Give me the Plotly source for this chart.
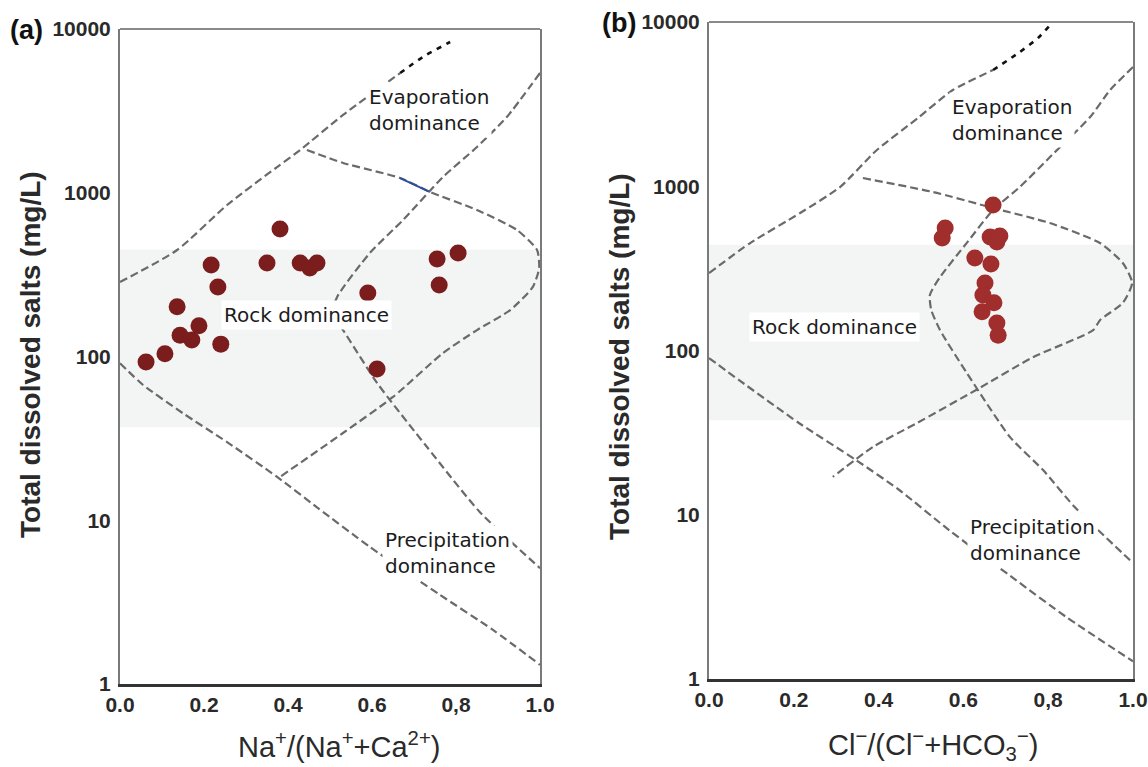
import numpy as np
import plotly.graph_objects as go

# ---------------- data ----------------
# panel (a): Na+/(Na+ + Ca2+) vs TDS
a_ratio = [0.062, 0.107, 0.136, 0.143, 0.171, 0.188, 0.217, 0.233, 0.240, 0.381,
           0.350, 0.429, 0.452, 0.469, 0.590, 0.612, 0.755, 0.805, 0.760]
a_tds = [92.6, 104, 201, 135, 126, 154, 362, 266, 119, 601,
         372, 372, 347, 372, 244, 84, 394, 429, 273]

# panel (b): Cl-/(Cl- + HCO3-) vs TDS
b_ratio = [0.670, 0.557, 0.550, 0.663, 0.679, 0.686, 0.627, 0.665, 0.651, 0.646,
           0.672, 0.644, 0.679, 0.682]
b_tds = [769, 557, 484, 491, 458, 498, 366, 336, 258, 218,
         195, 172, 147, 124]

# Gibbs boundary curves, panel (a)
a_evap_x = [0.0, 0.136, 0.255, 0.374, 0.429, 0.531, 0.667]
a_evap_y = [285, 447, 842, 1436, 1824, 2985, 5385]
a_evap_tip_x = [0.667, 0.721, 0.786]
a_evap_tip_y = [5385, 6745, 8330]
a_right_x = [1.0, 0.921, 0.850, 0.769, 0.674, 0.595, 0.517, 0.505, 0.531, 0.612, 0.731, 0.857, 1.0]
a_right_y = [5385, 2900, 1903, 1248, 682, 429, 231, 179, 145, 69, 28, 11.2, 5.1]
a_lower_x = [0.0, 0.055, 0.150, 0.255, 0.374, 0.469, 0.595, 0.762, 0.888, 1.0]
a_lower_y = [91, 67, 45, 30, 18.4, 12.0, 6.87, 3.5, 2.14, 1.31]
a_inner_x = [0.445, 0.531, 0.667, 0.738, 0.850, 0.945, 0.993, 0.998, 0.983, 0.929,
             0.850, 0.769, 0.650, 0.531, 0.381]
a_inner_y = [1824, 1521, 1230, 1011, 785, 593, 447, 347, 266, 192,
             145, 105, 56.6, 34.1, 18.4]
a_blue_x = [0.667, 0.736]
a_blue_y = [1230, 1015]

# Gibbs boundary curves, panel (b)
b_evap_x = [0.0, 0.097, 0.215, 0.309, 0.396, 0.493, 0.575, 0.670]
b_evap_y = [296, 451, 687, 989, 1663, 2606, 3855, 5100]
b_evap_tip_x = [0.670, 0.733, 0.776, 0.809]
b_evap_tip_y = [5100, 6561, 7990, 9860]
b_right_x = [1.0, 0.946, 0.899, 0.809, 0.733, 0.670, 0.608, 0.545, 0.521, 0.524,
             0.545, 0.608, 0.710, 0.788, 0.863, 1.0]
b_right_y = [5320, 3855, 2640, 1550, 989, 717, 452, 280, 218, 177,
             133, 73, 29.7, 18.7, 11.1, 5.08]
b_lower_x = [0.0, 0.071, 0.212, 0.347, 0.448, 0.566, 0.724, 0.842, 1.0]
b_lower_y = [90, 66, 36.2, 21.5, 14.2, 8.07, 4.0, 2.39, 1.28]
b_inner_x = [0.363, 0.528, 0.670, 0.804, 0.922, 0.976, 0.998, 0.976, 0.922, 0.906,
             0.764, 0.630, 0.491, 0.387, 0.292]
b_inner_y = [1122, 923, 737, 597, 451, 341, 258, 195, 153, 133,
             91, 57.5, 36.2, 25.9, 17.0]

x_ticks = [0.0, 0.2, 0.4, 0.6, 0.8, 1.0]
x_ticktext = ["0.0", "0.2", "0.4", "0.6", "0,8", "1.0"]
y_ticks = [1, 10, 100, 1000, 10000]
y_ticktext = ["1", "10", "100", "1000", "10000"]

# ---------------- figure ----------------
fig = go.Figure()

GRAY = "#6a6a6a"
DASH = "8px,4px"


def curve(x, y, xa, ya, color=GRAY, dash=DASH, width=2.2):
    fig.add_trace(go.Scatter(x=x, y=y, xaxis=xa, yaxis=ya, mode="lines",
                             line=dict(color=color, dash=dash, width=width,
                                       shape="spline", smoothing=0.6),
                             hoverinfo="skip", showlegend=False))


for xa, ya, grp in [("x", "y", "a"), ("x2", "y2", "b")]:
    d = globals()
    curve(d[f"{grp}_evap_x"], d[f"{grp}_evap_y"], xa, ya)
    curve(d[f"{grp}_evap_tip_x"], d[f"{grp}_evap_tip_y"], xa, ya, color="#111111",
          dash="5px,6px", width=2.6)
    curve(d[f"{grp}_right_x"], d[f"{grp}_right_y"], xa, ya)
    curve(d[f"{grp}_lower_x"], d[f"{grp}_lower_y"], xa, ya)
    curve(d[f"{grp}_inner_x"], d[f"{grp}_inner_y"], xa, ya)

curve(a_blue_x, a_blue_y, "x", "y", color="#2b4f9e", dash="solid", width=2)

fig.add_trace(go.Scatter(x=a_ratio, y=a_tds, xaxis="x", yaxis="y", mode="markers",
                         marker=dict(size=17, color="#7b1d1d", line=dict(width=0)),
                         showlegend=False))
fig.add_trace(go.Scatter(x=b_ratio, y=b_tds, xaxis="x2", yaxis="y2", mode="markers",
                         marker=dict(size=17, color="#a02e2c", line=dict(width=0)),
                         showlegend=False))

# ---------------- shapes: shaded band + frame ----------------
shapes = []
for xr, yr, y0, y1 in [("x domain", "y domain", 0.392, 0.663),
                       ("x2 domain", "y2 domain", 0.394, 0.661)]:
    shapes.append(dict(type="rect", xref=xr, yref=yr, x0=0, x1=1, y0=y0, y1=y1,
                       fillcolor="#f3f4f4", line=dict(width=0), layer="below"))
    shapes.append(dict(type="line", xref=xr, yref=yr, x0=0, x1=1, y0=1, y1=1,
                       line=dict(color="#8a8a8a", width=2)))

fig.update_layout(shapes=shapes)

# ---------------- annotations ----------------
TXT = dict(family="DejaVu Sans, Open Sans, sans-serif", size=20, color="#1c1c1c")
ann = []


def label(text, xr, yr, x, tds):
    ann.append(dict(text=text, xref=xr, yref=yr, x=x, y=np.log10(tds),
                    xanchor="center", yanchor="middle",
                    showarrow=False, font=TXT, bgcolor="white", borderpad=2,
                    align="left"))


label("Evaporation<br>dominance", "x", "y", 0.736, 3200)
label("Rock dominance", "x", "y", 0.443, 179)
label("Precipitation<br>dominance", "x", "y", 0.779, 6.3)
label("Evaporation<br>dominance", "x2", "y2", 0.715, 2530)
label("Rock dominance", "x2", "y2", 0.297, 139)
label("Precipitation<br>dominance", "x2", "y2", 0.762, 7.0)

BOLD = dict(family="Liberation Sans, Arial, sans-serif", size=27, color="#111111",
            weight="bold")
ann.append(dict(text="(a)", xref="paper", yref="paper", x=26 / 1148, y=1 - 30 / 767,
                xanchor="center", yanchor="middle", showarrow=False, font=BOLD))
ann.append(dict(text="(b)", xref="paper", yref="paper", x=619 / 1148, y=1 - 23 / 767,
                xanchor="center", yanchor="middle", showarrow=False, font=BOLD))

YT = dict(family="Liberation Sans, Arial, sans-serif", size=28, color="#2a2a2a",
          weight="bold")
ann.append(dict(text="Total dissolved salts (mg/L)", xref="paper", yref="paper",
                x=30 / 1148, y=1 - 355 / 767, xanchor="center", yanchor="middle",
                textangle=-90, showarrow=False, font=YT))
ann.append(dict(text="Total dissolved salts (mg/L)", xref="paper", yref="paper",
                x=620 / 1148, y=1 - 357 / 767, xanchor="center", yanchor="middle",
                textangle=-90, showarrow=False, font=YT))

XT = dict(family="Liberation Sans, Arial, sans-serif", size=29, color="#2a2a2a")
ann.append(dict(text="Na<sup>+</sup>/(Na<sup>+</sup>+Ca<sup>2+</sup>)", xref="paper",
                yref="paper", x=339 / 1148, y=1 - 745 / 767, xanchor="center",
                yanchor="middle", showarrow=False, font=XT))
ann.append(dict(text="Cl<sup>\u2212</sup>/(Cl<sup>\u2212</sup>+HCO<sub>3</sub><sup>\u2212</sup>)",
                xref="paper", yref="paper", x=933 / 1148, y=1 - 745 / 767,
                xanchor="center", yanchor="middle", showarrow=False, font=XT))

fig.update_layout(annotations=ann)

# ---------------- axes ----------------
TICKF = dict(family="Liberation Sans, Arial, sans-serif", size=21, color="#2a2a2a",
             weight="bold")
xcommon = dict(range=[0, 1], tickvals=x_ticks, ticktext=x_ticktext, showgrid=False,
               zeroline=False, showline=True, linecolor="#333333", linewidth=3,
               ticks="", tickfont=TICKF, fixedrange=True, automargin=False)
ycommon = dict(type="log", range=[0, 4], tickvals=y_ticks, ticktext=y_ticktext,
               showgrid=False, zeroline=False, showline=True, linecolor="#7a7a7a",
               linewidth=2, mirror=True, ticks="", tickfont=TICKF, fixedrange=True,
               automargin=False, ticklabelstandoff=3)

fig.update_layout(
    width=1148, height=767, autosize=False,
    margin=dict(l=0, r=0, t=0, b=0),
    paper_bgcolor="white", plot_bgcolor="white",
    showlegend=False,
    xaxis=dict(domain=[120 / 1148, 540 / 1148], anchor="y", **xcommon),
    yaxis=dict(domain=[1 - 684 / 767, 1 - 29 / 767], anchor="x", **ycommon),
    xaxis2=dict(domain=[709 / 1148, 1133 / 1148], anchor="y2", **xcommon),
    yaxis2=dict(domain=[1 - 679 / 767, 1 - 22 / 767], anchor="x2", **ycommon),
)

fig.write_html("out.html", config={"displayModeBar": False},
               post_script="document.body.style.margin='0px';"
                           "document.body.style.overflow='hidden';")
